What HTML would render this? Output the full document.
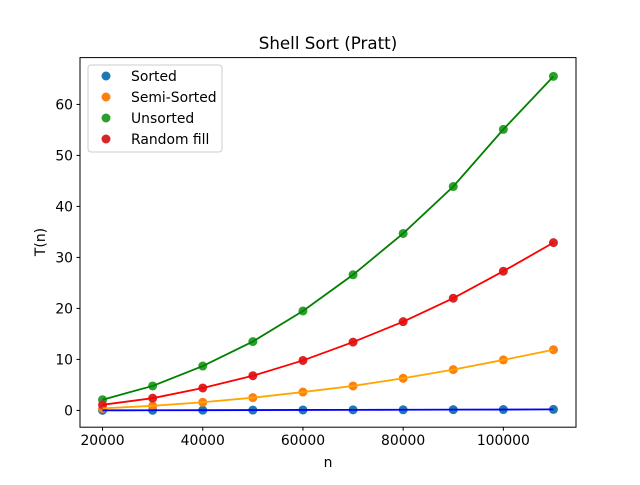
<!DOCTYPE html>
<html><head><meta charset="utf-8"><style>
body{margin:0;background:#fff;}
text{font-family:"DejaVu Sans","Liberation Sans",sans-serif;fill:#000;}
</style></head><body>
<svg id="chart" width="640" height="480" viewBox="0 0 640 480" xmlns="http://www.w3.org/2000/svg">
<rect width="640" height="480" fill="#fff"/>
<text x="328" y="49" font-size="16.7" text-anchor="middle">Shell Sort (Pratt)</text>
<g id="plot"></g>
<rect x="80" y="57.6" width="496" height="369.6" fill="none" stroke="#000" stroke-width="1"/>
<text x="328" y="467" font-size="13.9" text-anchor="middle">n</text>
<text x="45" y="242" font-size="13.9" text-anchor="middle" transform="rotate(-90 45 242)">T(n)</text>
<g id="legend">
<rect x="88" y="65" width="134" height="87" rx="3" fill="#fff" fill-opacity="0.8" stroke="#ccc"/>
</g>
</svg>
<script>
const categories=[20000,30000,40000,50000,60000,70000,80000,90000,100000,110000];
const sortedVals=[0.02,0.03,0.05,0.07,0.09,0.11,0.13,0.15,0.17,0.2];
const semiVals=[0.4,0.9,1.6,2.5,3.6,4.8,6.3,8.0,9.9,11.9];
const unsortedVals=[2.1,4.8,8.7,13.5,19.5,26.6,34.7,43.9,55.1,65.5];
const randomVals=[1.1,2.4,4.4,6.8,9.8,13.4,17.4,22.0,27.3,32.9];
const xTicks=[20000,40000,60000,80000,100000];
const yTicks=[0,10,20,30,40,50,60];
const seriesNames=["Sorted","Semi-Sorted","Unsorted","Random fill"];

const NS="http://www.w3.org/2000/svg";
const L=80,R=576,T=57.6,B=427.2;
const xMin=15500,xMax=114500,yMin=-3.29,yMax=69.18;
function xs(v){return L+(v-xMin)/(xMax-xMin)*(R-L);}
function ys(v){return B-(v-yMin)/(yMax-yMin)*(B-T);}
function mk(tag,attrs,parent){const e=document.createElementNS(NS,tag);for(const k in attrs)e.setAttribute(k,attrs[k]);parent.appendChild(e);return e;}
const svg=document.getElementById('chart');
const plot=document.getElementById('plot');

xTicks.forEach(t=>{
  const x=xs(t);
  const l=mk('line',{x1:x,x2:x,y1:B,y2:B+3.5,stroke:'#000'},svg);
  
  
  const tx=mk('text',{x:x,y:B+18,'font-size':13.9,'text-anchor':'middle'},svg);
  tx.textContent=t;
  
  
});
yTicks.forEach(t=>{
  const y=ys(t);
  const l=mk('line',{x1:L-3.5,x2:L,y1:y,y2:y,stroke:'#000'},svg);
  
  
  const tx=mk('text',{x:L-7,y:y+5,'font-size':13.9,'text-anchor':'end'},svg);
  tx.textContent=t;
  
  
});

const series=[
  {vals:sortedVals,pt:'#1f77b4',line:'#0000ff',name:'sorted'},
  {vals:semiVals,pt:'#ff7f0e',line:'#ffa500',name:'semi-sorted'},
  {vals:unsortedVals,pt:'#2ca02c',line:'#008000',name:'unsorted'},
  {vals:randomVals,pt:'#d62728',line:'#ff0000',name:'random-fill'}
];
series.forEach(s=>{
  s.vals.forEach((v,i)=>{
    const c=mk('circle',{cx:xs(categories[i]),cy:ys(v),r:4.5,fill:s.pt},plot);
    
    
  });
});
series.forEach(s=>{
  const pts=s.vals.map((v,i)=>xs(categories[i])+','+ys(v)).join(' ');
  const p=mk('polyline',{points:pts,fill:'none',stroke:s.line,'stroke-width':1.8},plot);
  
  
});

const lg=document.getElementById('legend');
seriesNames.forEach((n,i)=>{
  const y=76+i*21;
  const c=mk('circle',{cx:106,cy:y,r:4.5,fill:series[i].pt},lg);
  
  
  const t=mk('text',{x:131,y:y+5,'font-size':13.9},lg);
  t.textContent=n;
  
  
});
</script>
</body></html>
